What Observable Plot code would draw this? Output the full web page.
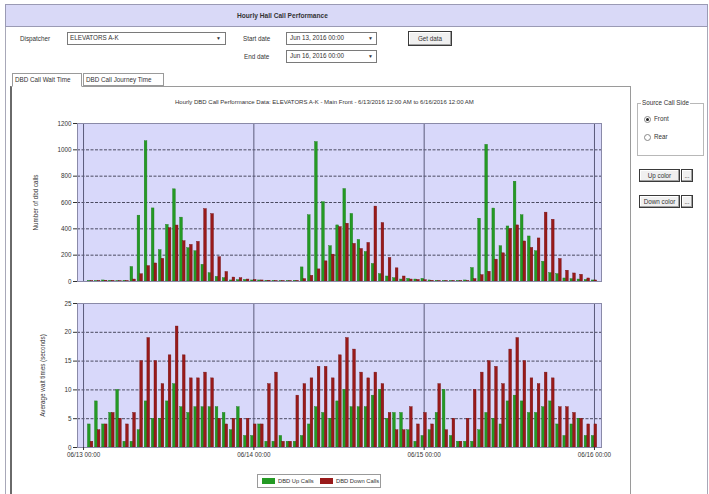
<!DOCTYPE html>
<html><head><meta charset="utf-8">
<script src="https://cdn.jsdelivr.net/npm/d3@7"></script>
<script src="https://cdn.jsdelivr.net/npm/@observablehq/plot@0.6"></script>
<style>
body{margin:0;background:#fff;font-family:"Liberation Sans",Arial,sans-serif;color:#333;}
#root{position:relative;width:709px;height:494px;overflow:hidden;background:#fff;}
.a{position:absolute;white-space:nowrap;font-size:6.3px;line-height:8px;}
.box{position:absolute;border:1px solid #8a8a8a;background:#fff;box-sizing:border-box;}
.btn{position:absolute;border:1px solid #3a3a3a;background:#f0f0f0;box-sizing:border-box;font-size:6.3px;line-height:11px;text-align:center;box-shadow:inset -1px -1px #a0a0a0, inset 1px 1px #fff;white-space:nowrap;}
.radio{position:absolute;width:5px;height:5px;border:1px solid #888;border-radius:50%;background:#fff;box-sizing:content-box;}
</style></head><body><div id="root"></div>
<script>
// ---- data (hour 1..72, 06/13 00:00 to 06/16 00:00) ----
const upCalls = [3,2,8,5,2,5,110,500,1065,555,238,430,700,485,253,230,127,63,35,25,8,10,12,8,
  8,5,4,3,3,5,107,503,1059,602,268,426,702,513,316,224,133,56,38,25,15,20,15,20,
  8,4,3,3,3,8,102,477,1038,554,268,418,758,503,342,230,150,64,56,23,18,15,12,8];
const downCalls = [2,3,6,4,2,3,15,55,117,137,172,405,425,306,278,301,550,512,185,72,30,25,15,12,
  8,6,3,3,3,4,18,43,92,153,204,413,439,286,247,293,569,444,179,100,38,15,12,10,
  5,3,3,3,3,3,18,48,74,166,214,398,426,304,255,327,523,469,171,82,61,51,23,8];
const upWait = [4,8,4,6,10,1,1,3,8,5,5,8,11,7,6,7,7,7,7,6,3,7,2,2,
  4,1,1,2,1,1,2,4,7,6,5,8,10,7,7,7,9,10,5,6,6,3,1,2,
  3,6,10,2,1,1,1,3,6,5,4,8,9,8,6,6,7,8,4,2,4,5,2,2];
const downWait = [1,3,4,6,5,4,6,15,19,15,11,16,21,16,12,12,13,12,5,4,5,5,5,4,
  4,11,13,1,1,9,11,12,14,14,12,16,19,17,13,12,13,11,6,3,3,7,4,6,
  4,11,3,5,1,5,10,13,15,14,11,17,19,15,12,11,13,12,7,7,6,5,4,4];
const dayHours = [0, 24, 48, 72];
const dayLabels = ["06/13 00:00", "06/14 00:00", "06/15 00:00", "06/16 00:00"];
const callTicks = [0, 200, 400, 600, 800, 1000, 1200];
const waitTicks = [0, 5, 10, 15, 20, 25];
const seriesNames = ["DBD Up Calls", "DBD Down Calls"];

const root = document.getElementById("root");
function el(cls, x, y, w, h, text, extra) {
  const d = document.createElement("div");
  d.className = cls;
  d.style.left = x + "px"; d.style.top = y + "px";
  if (w != null) d.style.width = w + "px";
  if (h != null) d.style.height = h + "px";
  if (text != null) d.textContent = text;
  if (extra) Object.assign(d.style, extra);
  root.appendChild(d);
  return d;
}
// window frame and header
el("box", 5, 4, 703, 500, null, {borderColor: "#a8a8b8"});
el("box", 5, 4, 703, 23, null, {background: "#d9d9f7", borderColor: "#9a9ab4"});
el("a", 237, 12, null, null, "Hourly Hall Call Performance", {fontWeight: "bold", fontSize: "6.6px"});
// controls
el("a", 20, 35, null, null, "Dispatcher");
el("box", 67, 32, 159, 13, null, {borderColor: "#7a7a7a"});
el("a", 70, 34, null, null, "ELEVATORS A-K");
el("a", 216, 34, null, null, "▼", {fontSize: "5px"});
el("a", 243, 35, null, null, "Start date");
el("box", 286, 32, 91, 13, null, {borderColor: "#7a7a7a"});
el("a", 290, 34, null, null, "Jun 13, 2016 00:00");
el("a", 368, 34, null, null, "▼", {fontSize: "5px"});
el("a", 244, 53, null, null, "End date");
el("box", 286, 50, 91, 13, null, {borderColor: "#7a7a7a"});
el("a", 290, 52, null, null, "Jun 16, 2016 00:00");
el("a", 368, 52, null, null, "▼", {fontSize: "5px"});
el("btn", 408, 31, 44, 15, "Get data", {lineHeight: "13px"});
// tabs and panel
el("box", 10, 86, 621, 420, null, {borderColor: "#9a9a9a", borderLeft: "2px solid #6a6a6a"});
el("box", 12, 73, 70, 14, null, {borderColor: "#9a9a9a", borderBottom: "1px solid #fff"});
el("a", 15, 76, null, null, "DBD Call Wait Time");
el("box", 83, 73, 81, 13, null, {borderColor: "#9a9a9a"});
el("a", 86, 76, null, null, "DBD Call Journey Time");
el("a", 175, 98, null, null,
  "Hourly DBD Call Performance Data: ELEVATORS A-K - Main Front - 6/13/2016 12:00 AM to 6/16/2016 12:00 AM",
  {fontSize: "6px"});
// right side panel
el("box", 637, 103, 67, 53, null, {borderColor: "#b8b8b8"});
el("a", 641, 99, null, null, "Source Call Side", {background: "#fff", padding: "0 1px"});
el("radio", 644, 116, null, null, null);
el("a", 646, 118, 3, 3, null, {background: "#222", borderRadius: "50%"});
el("a", 654, 115, null, null, "Front");
el("radio", 644, 134, null, null, null);
el("a", 654, 133, null, null, "Rear");
el("btn", 639, 169, 41, 13, "Up color");
el("btn", 681, 169, 12, 13, "...");
el("btn", 639, 195, 41, 13, "Down color");
el("btn", 681, 195, 12, 13, "...");

// ---- charts ----
const green = "#249a24", red = "#991a1a", lav = "#d8d8fa";
const halfW = 0.38;
const callRows = upCalls.map((v, i) => ({hour: i + 1, up: v, down: downCalls[i]}));
const waitRows = upWait.map((v, i) => ({hour: i + 1, up: v, down: downWait[i]}));

function chart(rows, yTicks, yLabel, labelOffset, height, marginBottom, showX) {
  return Plot.plot({
    width: 590, height, marginLeft: 57, marginRight: 9, marginTop: 8, marginBottom,
    style: {fontFamily: "Liberation Sans, Arial, sans-serif", fontSize: "6.3px", color: "#333", background: "transparent", overflow: "visible"},
    x: {domain: [-0.85, 72.99]},
    y: {domain: [yTicks[0], yTicks[yTicks.length - 1]]},
    marks: [
      Plot.frame({fill: lav}),
      Plot.ruleY(yTicks.slice(1, -1), {stroke: "#4a4a60", strokeDasharray: "3,1.5"}),
      Plot.ruleX(dayHours, {stroke: "#5a5a7a"}),
      Plot.rectY(rows, {x1: d => d.hour - halfW, x2: d => d.hour, y1: 0, y2: "up", fill: green, stroke: "#1c7a1c", strokeWidth: 0.4}),
      Plot.rectY(rows, {x1: d => d.hour, x2: d => d.hour + halfW, y1: 0, y2: "down", fill: red, stroke: "#701010", strokeWidth: 0.4}),
      Plot.frame({stroke: "#8a8aa8"}),
      Plot.axisY({ticks: yTicks, tickFormat: d => String(d), tickSize: 4, tickPadding: 2, label: yLabel, labelAnchor: "center", labelArrow: "none", labelOffset}),
      showX
        ? Plot.axisX({ticks: dayHours, tickFormat: (d, i) => dayLabels[i], tickSize: 3, tickPadding: 2, label: null})
        : Plot.axisX({ticks: [], label: null})
    ]
  });
}
const topChart = chart(callRows, callTicks, "Number of dbd calls", 44, 175, 9, false);
Object.assign(topChart.style, {position: "absolute", left: "20px", top: "115px"});
root.appendChild(topChart);
const botChart = chart(waitRows, waitTicks, "Average wait times (seconds)", 37, 170, 18, true);
Object.assign(botChart.style, {position: "absolute", left: "20px", top: "295px"});
root.appendChild(botChart);

// legend
el("box", 257, 474, 124, 14, null, {borderColor: "#9a9a9a"});
el("a", 262, 478, 13, 6, null, {background: green});
el("a", 278, 477, null, null, seriesNames[0], {fontSize: "5.8px"});
el("a", 320, 478, 13, 6, null, {background: red});
el("a", 336, 477, null, null, seriesNames[1], {fontSize: "5.8px"});
</script></body></html>
